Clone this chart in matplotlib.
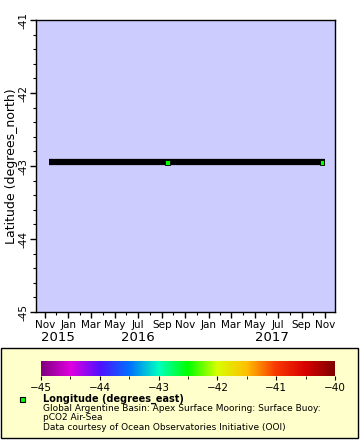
import numpy as np
import matplotlib.pyplot as plt
import matplotlib.dates as mdates
from matplotlib.colors import LinearSegmentedColormap, Normalize
from matplotlib.patches import Rectangle
import datetime as dt

# Data: mooring track (dense series drawn as one black band) and visible markers
track_times = [dt.datetime(2015, 11, 11), dt.datetime(2017, 11, 1)]
track_lat = [-42.95, -42.95]
marker_times = [dt.datetime(2016, 9, 17), dt.datetime(2017, 10, 24)]
marker_lat = [-42.95, -42.95]
marker_lon = [-42.5, -42.5]

year_labels = ['2015', '2016', '2017']
year_pos = [dt.datetime(2015, 12, 5), dt.datetime(2016, 7, 1), dt.datetime(2017, 6, 15)]

# rainbow-like palette
cmap = LinearSegmentedColormap.from_list('rainbow2', [
    (0.0, '#800080'), (0.1, '#e000e0'), (0.2, '#5010ff'), (0.3, '#0070ff'),
    (0.4, '#00ffc0'), (0.5, '#00ff00'), (0.6, '#d8ff00'), (0.7, '#ffc000'),
    (0.8, '#f83800'), (0.9, '#d80000'), (1.0, '#800000')])
norm = Normalize(-45, -40)

fig = plt.figure(figsize=(3.6, 4.4), dpi=100)
fig.patch.set_facecolor('white')

# legend box
fig.patches.append(Rectangle((1/360, 2/440), 357/360, 90/440, transform=fig.transFigure,
                             facecolor='#ffffcc', edgecolor='black', linewidth=1, zorder=-5))

ax = fig.add_axes([36/360, 1 - 312/440, 299/360, 292/440])
ax.set_facecolor('#ccccff')
ax.plot(track_times, track_lat, color='black', linewidth=4.5, solid_capstyle='butt')
ax.scatter(marker_times, marker_lat, c=marker_lon, cmap=cmap, norm=norm, marker='s',
           s=12, edgecolors='black', linewidths=0.6, zorder=3)

ax.set_xlim(dt.datetime(2015, 10, 9), dt.datetime(2017, 11, 27))
ax.set_ylim(-45, -41)
ax.xaxis.set_major_locator(mdates.MonthLocator(bymonth=[1, 3, 5, 7, 9, 11]))
ax.xaxis.set_minor_locator(mdates.MonthLocator())
ax.xaxis.set_major_formatter(mdates.DateFormatter('%b'))
ax.set_yticks([-45, -44, -43, -42, -41])
ax.set_yticks(np.arange(-45, -40.9, 0.2), minor=True)
ax.set_yticklabels(['-45', '-44', '-43', '-42', '-41'], rotation=90, va='center')
ax.tick_params(which='major', length=4, width=1, labelsize=7.5, pad=1.5)
ax.tick_params(which='minor', length=2, width=0.8)
ax.set_ylabel('Latitude (degrees_north)', fontsize=9, labelpad=0)
for s in ax.spines.values():
    s.set_linewidth(1)

for lab, pos in zip(year_labels, year_pos):
    ax.text(mdates.date2num(pos), -0.065, lab, fontsize=9.5, ha='center', va='top',
            transform=ax.get_xaxis_transform(), clip_on=False)

# colorbar
cax = fig.add_axes([41/360, 1 - 376/440, 294/360, 15/440])
grad = np.linspace(-45, -40, 256).reshape(1, -1)
cax.imshow(grad, aspect='auto', cmap=cmap, norm=norm, extent=[-45, -40, 0, 1])
cax.set_yticks([])
cax.set_xticks([-45, -44, -43, -42, -41, -40])
cax.set_xticks(np.arange(-45, -39.9, 0.5), minor=True)
cax.tick_params(which='major', length=3, labelsize=7.5, pad=2)
cax.tick_params(which='minor', length=2)
for s in cax.spines.values():
    s.set_visible(False)

# legend entries
fig.patches.append(Rectangle((19.5/360, 1 - 401.5/440), 5/360, 5/440, transform=fig.transFigure,
                             facecolor='#00ff00', edgecolor='black', linewidth=0.8))
fig.text(43/360, 1 - 399/440, 'Longitude (degrees_east)', fontsize=7, fontweight='bold',
         va='center')
fig.text(43/360, 1 - 408/440, 'Global Argentine Basin: Apex Surface Mooring: Surface Buoy:',
         fontsize=6.5, va='center')
fig.text(43/360, 1 - 417/440, 'pCO2 Air-Sea', fontsize=6.5, va='center')
fig.text(43/360, 1 - 427/440, 'Data courtesy of Ocean Observatories Initiative (OOI)',
         fontsize=6.5, va='center')

fig.savefig('out.png', dpi=100)
